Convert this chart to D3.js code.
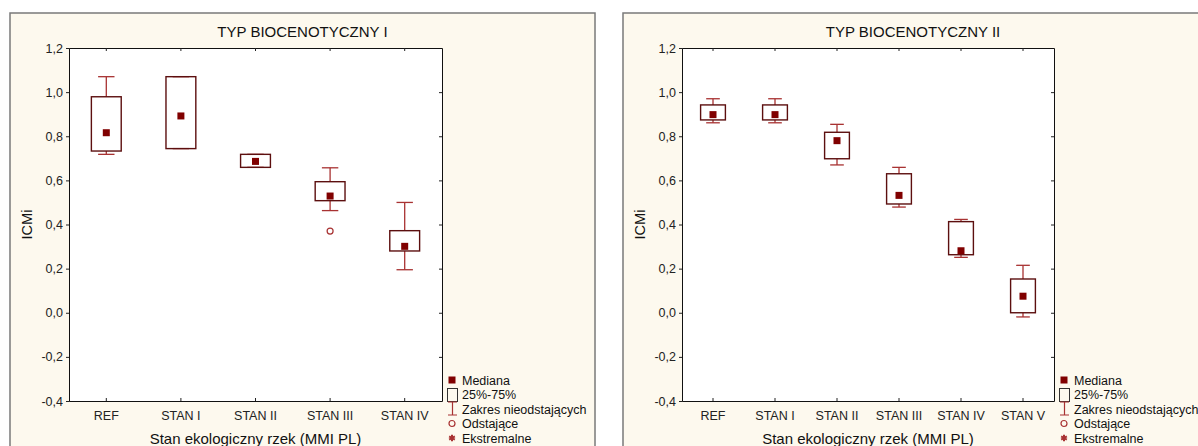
<!DOCTYPE html>
<html><head><meta charset="utf-8">
<script src="https://cdn.jsdelivr.net/npm/d3@7"></script>
<style>
html,body{margin:0;padding:0;background:#fff;}
svg{display:block;font-family:"Liberation Sans",Arial,sans-serif;}
</style></head>
<body>
<svg id="chart" width="1198" height="446"></svg>
<script>
// ---- Data ----
const titles = ["TYP BIOCENOTYCZNY I", "TYP BIOCENOTYCZNY II"];
const xTitle = "Stan ekologiczny rzek (MMI PL)";
const yTitle = "ICMi";
const yTicks = [-0.4, -0.2, 0.0, 0.2, 0.4, 0.6, 0.8, 1.0, 1.2];
const legendLabels = ["Mediana", "25%-75%", "Zakres nieodstających", "Odstające", "Ekstremalne"];

const categories1 = ["REF", "STAN I", "STAN II", "STAN III", "STAN IV"];
const median1 = [0.816, 0.892, 0.686, 0.529, 0.301];
const q1_1 =    [0.733, 0.744, 0.659, 0.508, 0.280];
const q3_1 =    [0.979, 1.070, 0.718, 0.594, 0.372];
const min1 =    [0.718, 0.744, 0.659, 0.463, 0.195];
const max1 =    [1.070, 1.070, 0.718, 0.657, 0.500];
const outliers1 = [{cat: "STAN III", value: 0.370}];

const categories2 = ["REF", "STAN I", "STAN II", "STAN III", "STAN IV", "STAN V"];
const median2 = [0.898, 0.898, 0.780, 0.532, 0.281, 0.075];
const q1_2 =    [0.874, 0.874, 0.698, 0.493, 0.263, 0.000];
const q3_2 =    [0.942, 0.942, 0.818, 0.630, 0.413, 0.153];
const min2 =    [0.861, 0.861, 0.670, 0.479, 0.251, -0.019];
const max2 =    [0.970, 0.970, 0.854, 0.659, 0.423, 0.215];
const outliers2 = [];

// ---- Drawing ----
const svg = d3.select("#chart");
const FONT = '"Liberation Sans",Arial,sans-serif';
const fmt = v => d3.format(".1f")(v).replace(".", ",").replace("−", "-");
const C_MED = "#800000", C_BOX = "#5c0f0f", C_WH = "#a83232";

function drawPanel(cfg) {
  const g = svg.append("g");
  g.append("rect").attr("x", cfg.fx).attr("y", cfg.fy).attr("width", cfg.fw).attr("height", cfg.fh)
    .attr("fill", "#fdf9ee").attr("stroke", "#7a7a7a").attr("stroke-width", 1.5);
  const x = d3.scaleBand().domain(cfg.cats).range([cfg.x0, cfg.x1]);
  const y = d3.scaleLinear().domain([-0.4, 1.2]).range([cfg.y1, cfg.y0]);
  g.append("rect").attr("x", cfg.x0).attr("y", cfg.y0).attr("width", cfg.x1 - cfg.x0).attr("height", cfg.y1 - cfg.y0)
    .attr("fill", "#fff");

  // axes
  g.append("g").attr("transform", `translate(${cfg.x0},0)`)
    .call(d3.axisLeft(y).tickValues(yTicks).tickFormat(fmt).tickSize(3).tickPadding(3));
  g.append("g").attr("transform", `translate(${cfg.x1},0)`)
    .call(d3.axisLeft(y).tickValues(yTicks).tickFormat("").tickSize(3).tickSizeOuter(0));
  g.append("g").attr("transform", `translate(0,${cfg.y1})`)
    .call(d3.axisTop(x).tickSize(3).tickSizeOuter(0).tickFormat(""));
  g.append("g").attr("transform", `translate(0,${cfg.y1})`)
    .call(d3.axisBottom(x).tickSize(0).tickPadding(10))
    .call(a => a.select(".domain").remove());
  g.append("g").attr("transform", `translate(0,${cfg.y0})`)
    .call(d3.axisBottom(x).tickSize(3).tickSizeOuter(0).tickFormat(""));
  g.selectAll(".domain").attr("stroke", "#111");
  g.selectAll(".tick line").attr("stroke", "#222");
  g.selectAll(".tick text").attr("font-size", 12.5).attr("fill", "#222").attr("font-family", FONT);

  // titles
  g.append("text").attr("x", cfg.fx + cfg.fw / 2).attr("y", 37).attr("text-anchor", "middle")
    .attr("font-size", 15).attr("fill", "#111").text(cfg.title);
  g.append("text").attr("x", (cfg.x0 + cfg.x1) / 2).attr("y", 444).attr("text-anchor", "middle")
    .attr("font-size", 15).attr("fill", "#111").text(xTitle);
  g.append("text").attr("transform", `translate(${cfg.fx + 22},${(cfg.y0 + cfg.y1) / 2}) rotate(-90)`)
    .attr("text-anchor", "middle").attr("font-size", 14.5).attr("fill", "#111").text(yTitle);

  const bw = x.bandwidth();
  const boxW = bw * 0.4, capW = bw * 0.22;
  const cx = c => x(c) + bw / 2;
  const data = cfg.cats.map((c, i) => ({c, med: cfg.med[i], q1: cfg.q1[i], q3: cfg.q3[i], mn: cfg.mn[i], mx: cfg.mx[i]}));
  const bx = g.append("g").selectAll("g").data(data).join("g");
  // whiskers
  bx.append("line").attr("x1", d => cx(d.c)).attr("x2", d => cx(d.c))
    .attr("y1", d => y(d.mx)).attr("y2", d => y(d.q3)).attr("stroke", C_WH).attr("stroke-width", 1.3);
  bx.append("line").attr("x1", d => cx(d.c)).attr("x2", d => cx(d.c))
    .attr("y1", d => y(d.mn)).attr("y2", d => y(d.q1)).attr("stroke", C_WH).attr("stroke-width", 1.3);
  bx.append("line").attr("x1", d => cx(d.c) - capW / 2).attr("x2", d => cx(d.c) + capW / 2)
    .attr("y1", d => y(d.mx)).attr("y2", d => y(d.mx)).attr("stroke", C_WH).attr("stroke-width", 1.3);
  bx.append("line").attr("x1", d => cx(d.c) - capW / 2).attr("x2", d => cx(d.c) + capW / 2)
    .attr("y1", d => y(d.mn)).attr("y2", d => y(d.mn)).attr("stroke", C_WH).attr("stroke-width", 1.3);
  // box
  bx.append("rect").attr("x", d => cx(d.c) - boxW / 2).attr("width", boxW)
    .attr("y", d => y(d.q3)).attr("height", d => y(d.q1) - y(d.q3))
    .attr("fill", "none").attr("stroke", C_BOX).attr("stroke-width", 1.4);
  // median
  bx.append("rect").attr("x", d => cx(d.c) - 3.5).attr("y", d => y(d.med) - 3.5)
    .attr("width", 7).attr("height", 7).attr("fill", C_MED);
  // outliers
  g.append("g").selectAll("circle").data(cfg.out).join("circle")
    .attr("cx", d => cx(d.cat)).attr("cy", d => y(d.value)).attr("r", 3)
    .attr("fill", "none").attr("stroke", C_WH).attr("stroke-width", 1.2);

  // legend
  const lg = g.append("g").attr("transform", `translate(${cfg.lx},0)`);
  const ly = d3.scalePoint().domain(legendLabels).range([380, 438]);
  lg.selectAll("text").data(legendLabels).join("text")
    .attr("x", 10).attr("y", d => ly(d) + 4.5).attr("font-size", 12.5).attr("fill", "#111").text(d => d);
  const yy = i => ly(legendLabels[i]);
  lg.append("rect").attr("x", -3.5).attr("y", yy(0) - 3.5).attr("width", 7).attr("height", 7).attr("fill", C_MED);
  lg.append("rect").attr("x", -4.5).attr("y", yy(1) - 6).attr("width", 10).attr("height", 13)
    .attr("fill", "none").attr("stroke", "#333").attr("stroke-width", 1);
  lg.append("path").attr("d", `M-4,${yy(2) - 7}H5M0.5,${yy(2) - 7}V${yy(2) + 6}M-4,${yy(2) + 6}H5`)
    .attr("stroke", C_WH).attr("stroke-width", 1.2).attr("fill", "none");
  lg.append("circle").attr("cx", 0).attr("cy", yy(3)).attr("r", 3)
    .attr("fill", "none").attr("stroke", C_WH).attr("stroke-width", 1.2);
  lg.append("path").attr("d", d3.symbol().type(d3.symbolAsterisk).size(30)())
    .attr("transform", `translate(0,${yy(4)})`).attr("stroke", C_WH).attr("stroke-width", 2).attr("fill", "none");
}

drawPanel({title: titles[0], cats: categories1, med: median1, q1: q1_1, q3: q3_1, mn: min1, mx: max1, out: outliers1,
  fx: 10, fy: 13, fw: 585, fh: 460, x0: 69, x1: 442, y0: 48, y1: 401, lx: 452});
drawPanel({title: titles[1], cats: categories2, med: median2, q1: q1_2, q3: q3_2, mn: min2, mx: max2, out: outliers2,
  fx: 623, fy: 13, fw: 580, fh: 460, x0: 682, x1: 1054, y0: 48, y1: 401, lx: 1064});
</script>
</body></html>
